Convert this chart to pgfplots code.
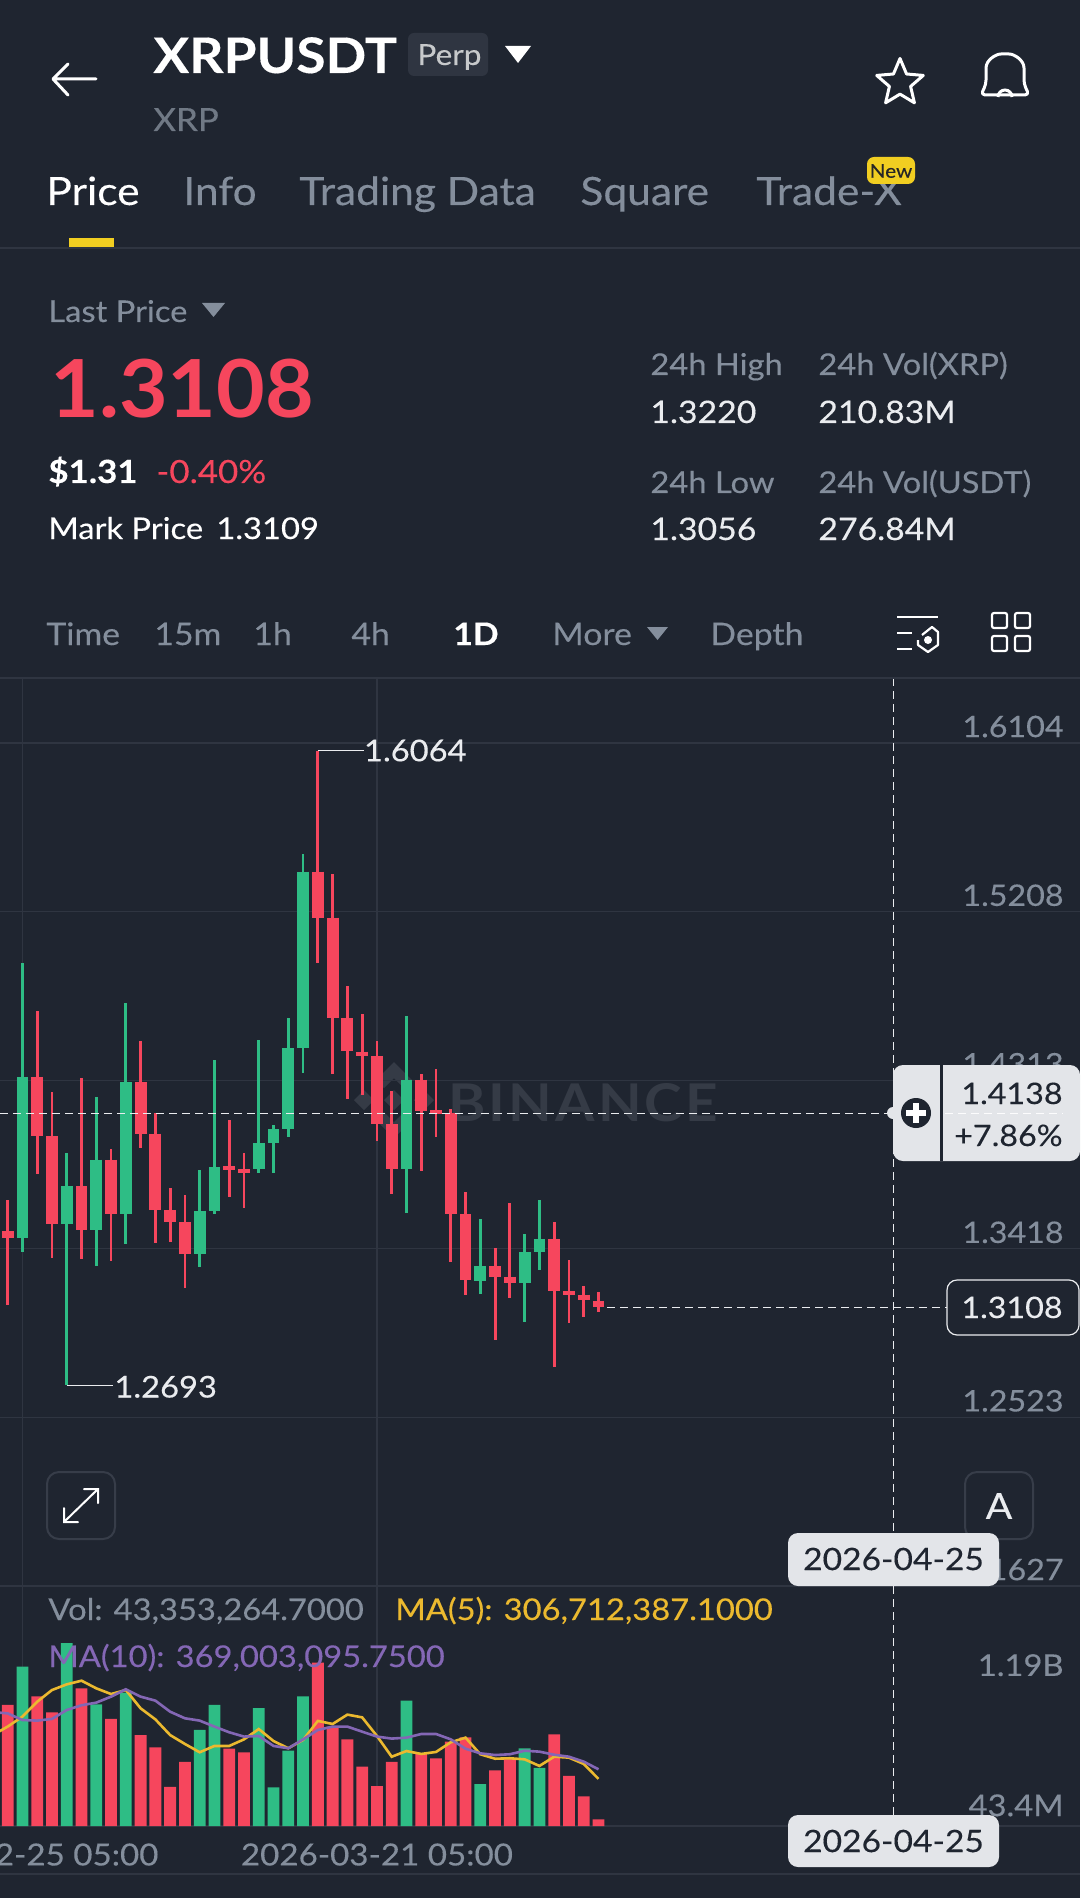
\documentclass[border=0pt]{standalone}
\usepackage{fontspec}
\usepackage{pgfplots}
\usepackage{pgfplotstable}
\pgfplotsset{compat=1.18}
\usetikzlibrary{shapes.geometric}
\setmainfont[FakeStretch=1.09,FakeBold=0.25]{Lato}
\newfontfamily\wmfont[LetterSpace=6,FakeStretch=1.09]{Lato}
\newfontfamily\bigfont[FakeStretch=1.05]{Lato}
\definecolor{bg}{HTML}{1F2530}
\definecolor{gridc}{HTML}{2F3541}
\definecolor{cR}{HTML}{F6465D}
\definecolor{cG}{HTML}{2EBD85}
\definecolor{gr}{HTML}{848E9C}
\definecolor{wh}{HTML}{EAECEF}
\definecolor{yl}{HTML}{EBB92F}
\definecolor{pu}{HTML}{8467B5}
\definecolor{card}{HTML}{E3E5E9}
\definecolor{dk}{HTML}{1F2530}
\definecolor{wm}{HTML}{353B46}
\pgfplotstableread{
i H T B L
0 1.3675 1.3512 1.3475 1.3117
2 1.4682 1.4331 1.4017 1.3817
3 1.4253 1.4017 1.3551 1.3370
5 1.4324 1.3751 1.3519 1.3361
7 1.3946 1.3892 1.3600 1.3353
9 1.4519 1.4302 1.4029 1.3953
10 1.4138 1.4029 1.3626 1.3446
11 1.3741 1.3624 1.3560 1.3456
12 1.3702 1.3558 1.3392 1.3207
15 1.4104 1.3856 1.3836 1.3692
16 1.3926 1.3839 1.3821 1.3634
21 1.6064 1.5421 1.5177 1.4933
22 1.5407 1.5177 1.4641 1.4346
23 1.4814 1.4641 1.4470 1.4214
24 1.4665 1.4465 1.4441 1.4236
25 1.4519 1.4441 1.4080 1.3992
26 1.4255 1.4080 1.3841 1.3707
28 1.4346 1.4316 1.4151 1.3829
29 1.4370 1.4153 1.4134 1.4009
30 1.4158 1.4138 1.3600 1.3348
31 1.3717 1.3600 1.3251 1.3173
33 1.3424 1.3326 1.3270 1.2936
34 1.3660 1.3270 1.3236 1.3156
37 1.3560 1.3470 1.3192 1.2792
38 1.3356 1.3192 1.3175 1.3026
39 1.3219 1.3175 1.3146 1.3058
40 1.3190 1.3141 1.3108 1.3082
}\redtab
\pgfplotstableread{
i H T B L
1 1.4933 1.4331 1.3475 1.3400
4 1.3926 1.3751 1.3551 1.2693
6 1.4224 1.3892 1.3519 1.3329
8 1.4721 1.4302 1.3600 1.3443
13 1.3836 1.3621 1.3392 1.3319
14 1.4421 1.3853 1.3621 1.3600
17 1.4526 1.3980 1.3839 1.3821
18 1.4077 1.4053 1.3980 1.3821
19 1.4646 1.4482 1.4056 1.4012
20 1.5516 1.5421 1.4482 1.4351
27 1.4655 1.4316 1.3841 1.3607
32 1.3575 1.3326 1.3248 1.3180
35 1.3495 1.3402 1.3236 1.3029
36 1.3678 1.3470 1.3402 1.3304
}\greentab
\pgfplotstableread{
i v
0 788
2 844
3 740
5 896
7 697
9 592
10 512
11 254
12 417
15 503
16 480
21 1063
22 647
23 564
24 386
25 260
26 417
28 469
29 441
30 549
31 577
33 362
34 441
37 597
38 326
39 193
40 43.35
}\volred
\pgfplotstableread{
i v
1 1037
4 1190
6 792
8 868
13 625
14 788
17 768
18 252
19 490
20 844
27 816
32 273
35 506
36 378
}\volgreen
\pgfplotstableread{
i a b
-1 592 742
0 647 733
1 712 690
2 809 686
3 885 697
4 922 755
5 946 786
6 896 803
7 859 842
8 885 890
9 766 842
10 694 816
11 592 744
12 534 701
13 480 686
14 521 647
15 521 610
16 564 582
17 631 586
18 553 521
19 506 506
20 560 564
21 684 625
22 664 647
23 725 647
24 707 614
25 586 582
26 451 569
27 488 575
28 469 599
29 482 599
30 545 564
31 575 503
32 467 473
33 438 462
34 441 467
35 434 490
36 391 484
37 451 464
38 445 451
39 404 419
40 306.7 369
}\matab
\newcommand{\Tx}[5]{\node[anchor=base west,inner sep=0pt,text=#4,font=\fontsize{#3}{#3}\selectfont] at (#1,#2) {#5};}
\newcommand{\Tr}[5]{\node[anchor=base east,inner sep=0pt,text=#4,font=\fontsize{#3}{#3}\selectfont] at (#1,#2) {#5};}
\begin{document}
\begin{tikzpicture}
\path[use as bounding box] (0pt,0pt) rectangle (540pt,-949pt);
\clip (0pt,0pt) rectangle (540pt,-949pt);
\begin{scope}[x=0.5pt,y=-0.5pt]
\fill[bg] (0,0) rectangle (1080,1898);
% watermark
\fill[wm] (394,1062) -- (412,1080) -- (404,1088) -- (394,1078) -- (384,1088) -- (376,1080) -- cycle;
\fill[wm] (394,1138) -- (412,1120) -- (404,1112) -- (394,1122) -- (384,1112) -- (376,1120) -- cycle;
\fill[wm] (394,1090) -- (404,1100) -- (394,1110) -- (384,1100) -- cycle;
\fill[wm] (364,1090) -- (374,1100) -- (364,1110) -- (354,1100) -- cycle;
\fill[wm] (424,1090) -- (434,1100) -- (424,1110) -- (414,1100) -- cycle;
\node[anchor=base west,inner sep=0pt,text=wm,font=\wmfont\bfseries\fontsize{26}{26}\selectfont] at (448,1121) {BINANCE};
\end{scope}
% price axis
\begin{axis}[at={(0pt,-339pt)},anchor=north west,scale only axis,width=540pt,height=454pt,
  xmin=-0.519,xmax=72.6,ymin=1.1627,ymax=1.6449,
  axis line style={draw=none},major tick length=0pt,
  xtick={1,25},xticklabels={,,},
  ytick={1.1627,1.2523,1.3418,1.4313,1.5208,1.6104},
  yticklabels={1.1627,1.2523,1.3418,1.4313,1.5208,1.6104},
  yticklabel pos=right,
  yticklabel style={anchor=south east,inner sep=0pt,xshift=-8pt,yshift=2.6pt,text=gr,font=\fontsize{14.8}{14.8}\selectfont},
  xmajorgrids,ymajorgrids,grid style={gridc,line width=0.6pt}]
\addplot[draw=none,mark=none,forget plot,error bars/.cd,y dir=both,y explicit,error mark=none,error bar style={color=cR,line width=1.4pt}]
  table[x=i,y=T,y error plus expr=\thisrow{H}-\thisrow{T},y error minus expr=\thisrow{T}-\thisrow{L}] {\redtab};
\addplot[draw=none,mark=none,forget plot,error bars/.cd,y dir=both,y explicit,error mark=none,error bar style={color=cG,line width=1.4pt}]
  table[x=i,y=T,y error plus expr=\thisrow{H}-\thisrow{T},y error minus expr=\thisrow{T}-\thisrow{L}] {\greentab};
\addplot[draw=none,mark=none,forget plot,error bars/.cd,y dir=minus,y explicit,error mark=none,error bar style={color=cR,line width=5.9pt}]
  table[x=i,y=T,y error minus expr=\thisrow{T}-\thisrow{B}] {\redtab};
\addplot[draw=none,mark=none,forget plot,error bars/.cd,y dir=minus,y explicit,error mark=none,error bar style={color=cG,line width=5.9pt}]
  table[x=i,y=T,y error minus expr=\thisrow{T}-\thisrow{B}] {\greentab};
% current and crosshair lines
\addplot[wh,line width=0.6pt,dash pattern=on 4pt off 2.5pt] coordinates {(-0.519,1.4138)(60,1.4138)};
\addplot[wh,line width=0.6pt,dash pattern=on 4pt off 2.5pt] coordinates {(40.6,1.3108)(63.6,1.3108)};
\addplot[wh,line width=0.6pt,dash pattern=on 4pt off 2.5pt] coordinates {(59.98,1.6449)(59.98,1.1627)};
% high and low callouts
\addplot[wh,line width=0.6pt] coordinates {(21,1.6064)(24.1,1.6064)};
\addplot[wh,line width=0.6pt] coordinates {(4,1.2693)(7.15,1.2693)};
\node[anchor=west,inner sep=0pt,text=wh,font=\fontsize{15}{15}\selectfont] at (axis cs:24.1,1.6064) {1.6064};
\node[anchor=west,inner sep=0pt,text=wh,font=\fontsize{15}{15}\selectfont] at (axis cs:7.2,1.2685) {1.2693};
\end{axis}
% volume axis
\begin{axis}[at={(0pt,-793pt)},anchor=north west,scale only axis,width=540pt,height=120pt,
  xmin=-0.519,xmax=72.6,ymin=0,ymax=1562,
  axis line style={draw=none},major tick length=0pt,
  xtick={1,25},xticklabels={2026-02-25 05:00,2026-03-21 05:00},
  xticklabel style={anchor=north,inner sep=0pt,yshift=-8.5pt,text=gr,font=\fontsize{15.2}{15.2}\selectfont},
  ytick={1190},yticklabels={1.19B},
  yticklabel pos=right,
  yticklabel style={anchor=east,inner sep=0pt,xshift=-8pt,yshift=-11pt,text=gr,font=\fontsize{15}{15}\selectfont},
  extra y ticks={43.4},extra y tick labels={43.4M},
  extra y tick style={yticklabel style={yshift=18pt}},
  xmajorgrids,grid style={gridc,line width=0.6pt}]
\addplot[gridc,line width=0.6pt,forget plot] coordinates {(-0.519,0)(72.6,0)};
\addplot[ybar,bar width=5.9pt,bar shift=0pt,fill=cR,draw=none,forget plot] table[x=i,y=v] {\volred};
\addplot[ybar,bar width=5.9pt,bar shift=0pt,fill=cG,draw=none,forget plot] table[x=i,y=v] {\volgreen};
\addplot[yl,line width=1.3pt,forget plot] table[x=i,y=a] {\matab};
\addplot[pu,line width=1.3pt,forget plot] table[x=i,y=b] {\matab};
\addplot[wh,line width=0.6pt,dash pattern=on 4pt off 2.5pt,forget plot] coordinates {(59.98,1562)(59.98,0)};
\end{axis}
\begin{scope}[x=0.5pt,y=-0.5pt]
% header
\draw[white,line width=1.5pt,line cap=round,line join=round] (96,79)--(54,79) (68,64)--(53,79)--(68,95);
\Tx{153}{73}{24.5}{white}{\bfseries XRPUSDT}
\fill[gridc,rounded corners=3pt] (408,33) rectangle (488,76);
\Tx{417}{65}{14.5}{wh!85!black}{Perp}
\fill[white] (505,46)--(531,46)--(518,63)--cycle;
\Tx{153}{131}{16}{gr!85!black}{XRP}
\node[star,star points=5,star point ratio=2.2,draw=white,line width=1.5pt,line join=round,inner sep=0pt,minimum size=24.5pt] at (900,83) {};
\draw[white,line width=1.5pt,line join=round,line cap=round,rounded corners=2pt] (981,95) -- (1029,95) -- (1024,84) -- (1024,72) .. controls (1024,60) and (1014,54) .. (1005,54) .. controls (996,54) and (986,60) .. (986,72) -- (986,84) -- cycle;
\draw[white,line width=1.5pt] (998,97) arc[start angle=180,end angle=360,radius=7];
% tabs
\Tx{46}{205}{19.5}{white}{Price}
\Tx{183}{205}{19.5}{gr}{Info}
\Tx{299}{205}{19.5}{gr}{Trading Data}
\Tx{580}{205}{19.5}{gr}{Square}
\Tx{756}{205}{19.5}{gr}{Trade-X}
\fill[yl!70!yellow,rounded corners=3.5pt] (867,157) rectangle (915,184);
\node[text=black!85,inner sep=0pt,font=\fontsize{9.5}{9.5}\selectfont] at (891,171) {New};
\fill[yl!70!yellow] (69,238) rectangle (114,247);
\fill[gridc] (0,247) rectangle (1080,249);
% price block
\Tx{48}{322}{15}{gr}{Last Price}
\fill[gr] (202,303)--(225,303)--(213.5,317)--cycle;
\node[anchor=base west,inner sep=0pt,text=cR,font=\bigfont\bfseries\fontsize{40}{40}\selectfont] at (50,418) {1.3108};
\Tx{48}{483}{16}{white}{\bfseries \$1.31}
\Tx{156}{483}{16}{cR}{-0.40\%}
\Tx{48}{539}{15}{white}{Mark Price}
\Tx{216}{539}{15}{white}{1.3109}
\Tx{650}{375}{15}{gr}{24h High}
\Tx{650}{423}{15.5}{wh}{1.3220}
\Tx{818}{375}{15}{gr}{24h Vol(XRP)}
\Tx{818}{423}{15.5}{wh}{210.83M}
\Tx{650}{493}{15}{gr}{24h Low}
\Tx{650}{540}{15.5}{wh}{1.3056}
\Tx{818}{493}{15}{gr}{24h Vol(USDT)}
\Tx{818}{540}{15.5}{wh}{276.84M}
% timeframe row
\Tx{46}{645}{15.5}{gr}{Time}
\Tx{154}{645}{15.5}{gr}{15m}
\Tx{253}{645}{15.5}{gr}{1h}
\Tx{351}{645}{15.5}{gr}{4h}
\Tx{453}{645}{15.5}{white}{\bfseries 1D}
\Tx{552}{645}{15.5}{gr}{More}
\fill[gr] (647,627)--(668,627)--(657.5,640)--cycle;
\Tx{710}{645}{15.5}{gr}{Depth}
\draw[white,line width=1.1pt] (897,617)--(938,617) (897,633)--(912,633) (897,649)--(912,649);
\draw[white,line width=1.1pt,line join=round] (922,635)--(932,627)--(938,632)--(938,645)--(928,652)--(918,645)--(918,640);
\fill[white] (928,640) circle (4);
\foreach \a/\b in {992/613,1015/613,992/636,1015/636}{\draw[white,line width=1.1pt,rounded corners=1pt] (\a,\b) rectangle ++(15,15);}
\fill[gridc] (0,677) rectangle (1080,679);
% buttons
\draw[gridc!150!bg,line width=1pt,rounded corners=6pt] (47,1472) rectangle (115,1539);
\draw[white,line width=1pt,line cap=round] (64,1522)--(98,1489) (84,1489)--(98,1489)--(98,1503) (64,1508)--(64,1522)--(78,1522);
\draw[gridc!150!bg,line width=1pt,rounded corners=6pt] (965,1472) rectangle (1033,1539);
\node[text=wh,inner sep=0pt,font=\fontsize{18}{18}\selectfont] at (999,1506) {A};
% crosshair card
\fill[card,rounded corners=5pt] (893,1065) rectangle (1080,1161);
\fill[card] (893,1113) circle (6);
\fill[dk] (940,1065) rectangle (943,1161);
\fill[dk] (916,1113) circle (15);
\fill[white] (913,1103) rectangle (919,1123);
\fill[white] (906,1110) rectangle (926,1116);
\draw[white!90!card,line width=0.5pt,dash pattern=on 4pt off 2.5pt] (945,1113)--(1063,1113);
\Tr{1063}{1104}{14.8}{dk}{1.4138}
\Tr{1063}{1146}{14.8}{dk}{+7.86\%}
% last price tag
\draw[wh,line width=0.6pt,fill=bg,rounded corners=5pt] (947,1280) rectangle (1079,1335);
\Tr{1063}{1318}{14.8}{wh}{1.3108}
% volume header
\Tx{48}{1620}{15}{gr}{Vol: 43,353,264.7000}
\Tx{395}{1620}{15}{yl}{MA(5): 306,712,387.1000}
\Tx{48}{1667}{15}{pu}{MA(10): 369,003,095.7500}
% date tags
\fill[card,rounded corners=5pt] (788,1533) rectangle (999,1586);
\node[text=dk,inner sep=0pt,font=\fontsize{15.4}{15.4}\selectfont] at (893.5,1559) {2026-04-25};
\fill[card,rounded corners=5pt] (788,1815) rectangle (999,1867);
\node[text=dk,inner sep=0pt,font=\fontsize{15.4}{15.4}\selectfont] at (893.5,1841) {2026-04-25};
\fill[gridc] (0,1873) rectangle (1080,1875);
\end{scope}
\end{tikzpicture}
\end{document}
